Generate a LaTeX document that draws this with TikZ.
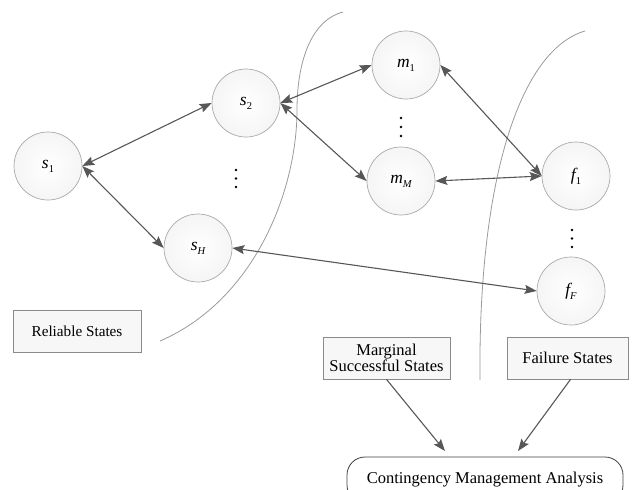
\documentclass[tikz,border=0pt]{standalone}
\usepackage{fontspec}
\setmainfont{Liberation Serif}
\usetikzlibrary{arrows.meta}
\definecolor{edgec}{HTML}{575757}
\definecolor{circb}{HTML}{ABABAB}
\definecolor{circf}{HTML}{F5F5F5}
\definecolor{boxb}{HTML}{8A8A8A}
\definecolor{boxf}{HTML}{F7F7F7}
\definecolor{curvec}{HTML}{9A9A9A}
\newcommand{\mysub}[1]{\raisebox{-0.5ex}{\fontsize{10.5}{10}\selectfont #1}}
\begin{document}
\begin{tikzpicture}[x=1pt,y=-1pt,
  state/.style={circle, minimum size=68pt, inner sep=0pt, draw=circb, line width=0.7pt,
    inner color=white, outer color=circf, font=\fontsize{17.5}{18}\selectfont\itshape},
  lbox/.style={draw=boxb, fill=boxf, line width=0.8pt, minimum height=42pt,
    font=\fontsize{16.5}{17}\selectfont, align=center, inner sep=0pt},
  tip/.tip={Stealth[length=12pt,width=9pt,inset=2pt]},
  link/.style={draw=edgec, line width=1.1pt, tip-tip},
  onelink/.style={draw=edgec, line width=1.1pt, -tip},
  region/.style={draw=curvec, line width=0.8pt},
  vdot/.style={fill=black, circle, inner sep=0pt, minimum size=2.8pt}
]
\useasboundingbox (0,0) rectangle (635,490);

% region boundaries
\draw[region] (343,12) .. controls (312,20) and (297,60) .. (297,110)
  .. controls (297,190) and (255,300) .. (160,341);
\draw[region] (585,31) .. controls (520,50) and (478,180) .. (480,380);

% states
\node[state] (s1) at (48,166) {s\mysub{\upshape 1}};
\node[state] (s2) at (246,103) {s\mysub{\upshape 2}};
\node[state] (sH) at (198,248) {s\mysub{H}};
\node[state] (m1) at (406,65) {m\mysub{\upshape 1}};
\node[state] (mM) at (401,181) {m\mysub{M}};
\node[state] (f1) at (576,176) {f\mysub{\upshape 1}};
\node[state] (fF) at (571,291) {f\mysub{F}};

% vertical dots
\foreach \n/\x/\y in {a/236/170, b/236/178.5, c/236/187,
                      d/401/118, e/401/127, f/401/136,
                      g/572/230, h/572/238.5, i/572/247}
  \node[vdot] (dot\n) at (\x,\y) {};

% links
\draw[link] (s1.east) -- (s2.west);
\draw[link] (s1.east) -- (sH.west);
\draw[link] (s2.east) -- (m1.west);
\draw[link] (s2.east) -- (mM.west);
\draw[link] (m1.east) -- (f1.west);
\draw[link] (mM.east) -- (f1.west);
\draw[link] (sH.east) -- (fF.west);

% labels
\node[lbox, minimum width=128pt, font=\fontsize{15.2}{16}\selectfont] (rel) at (77,331) {Reliable States};
\node[lbox, minimum width=127pt] (marg) at (386.5,358) {Marginal\\[-1pt]Successful States};
\node[lbox, minimum width=121pt] (fail) at (567.5,358) {Failure States};
\node[draw=black!75, line width=0.8pt, rounded corners=18pt, minimum width=276pt,
  minimum height=46pt, inner sep=0pt, font=\fontsize{16.5}{17}\selectfont] (cma) at (485,480)
  {Contingency Management Analysis};

\coordinate (ca) at (445,451);
\coordinate (cb) at (518,451);
\draw[onelink] (marg.south) -- (ca);
\draw[onelink] ([xshift=3pt]fail.south) -- (cb);
\end{tikzpicture}
\end{document}
